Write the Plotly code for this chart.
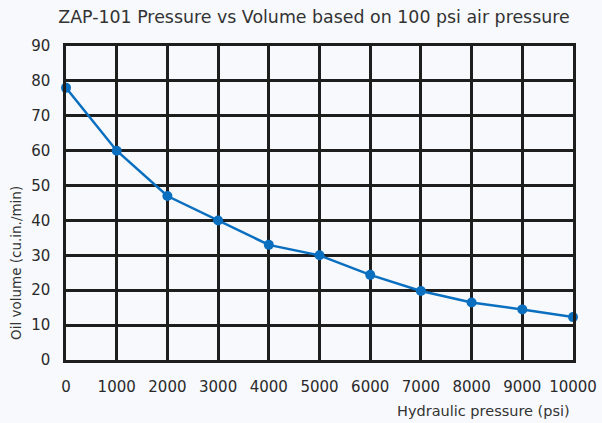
import plotly.graph_objects as go

pressure = [0, 1000, 2000, 3000, 4000, 5000, 6000, 7000, 8000, 9000, 10000]
volume = [78, 60, 47, 40, 33, 30, 24.4, 19.8, 16.5, 14.5, 12.3]
x_ticks = list(range(0, 10001, 1000))
x_labels = [str(v) for v in x_ticks]
y_ticks = list(range(0, 91, 10))

bg = "#f7f9fc"
grid = "#1e1e1e"
font = "DejaVu Sans, Verdana, sans-serif"

fig = go.Figure()
fig.add_trace(go.Scatter(
    x=pressure, y=volume, mode="lines+markers",
    line=dict(color="#0b6fc0", width=2.5),
    marker=dict(color="#0b6fc0", size=10),
    showlegend=False, cliponaxis=False,
))

fig.update_layout(
    width=602, height=423,
    paper_bgcolor=bg, plot_bgcolor=bg,
    margin=dict(l=66, r=29, t=46, b=63, autoexpand=False),
    font=dict(family=font, size=15, color="#2a2a2a"),
    title=dict(text="ZAP-101 Pressure vs Volume based on 100 psi air pressure",
               x=0.5216, xanchor="center", y=0.96, yanchor="middle",
               font=dict(size=17.4, color="#333333")),
    xaxis=dict(range=[0, 10000], tickvals=x_ticks, ticktext=x_labels, showgrid=True,
               gridcolor=grid, gridwidth=2.5, showline=True, linecolor=grid,
               linewidth=2.5, mirror=True, zeroline=False, ticks="", ticklen=0,
               ticklabelstandoff=11, tickfont=dict(size=15, color="#2a2a2a")),
    yaxis=dict(range=[0, 90], tickvals=y_ticks, showgrid=True, gridcolor=grid,
               gridwidth=2.5, showline=True, linecolor=grid, linewidth=2.5, mirror=True,
               zeroline=False, ticks="", ticklabelstandoff=10,
               tickfont=dict(size=15, color="#2a2a2a")),
    annotations=[
        dict(text="Hydraulic pressure (psi)", xref="paper", yref="paper",
             x=0.998, y=-0.163, xanchor="right", yanchor="middle", showarrow=False,
             font=dict(size=14.5, color="#333333")),
        dict(text="Oil volume (cu.in./min)", xref="paper", yref="paper",
             x=-0.1, y=0.31, xanchor="center", yanchor="middle", textangle=-90,
             showarrow=False, font=dict(size=13.5, color="#333333")),
    ],
)

fig.write_html("out.html", config={"displayModeBar": False},
               post_script="document.body.style.margin='0';document.body.style.background='#f7f9fc';")
